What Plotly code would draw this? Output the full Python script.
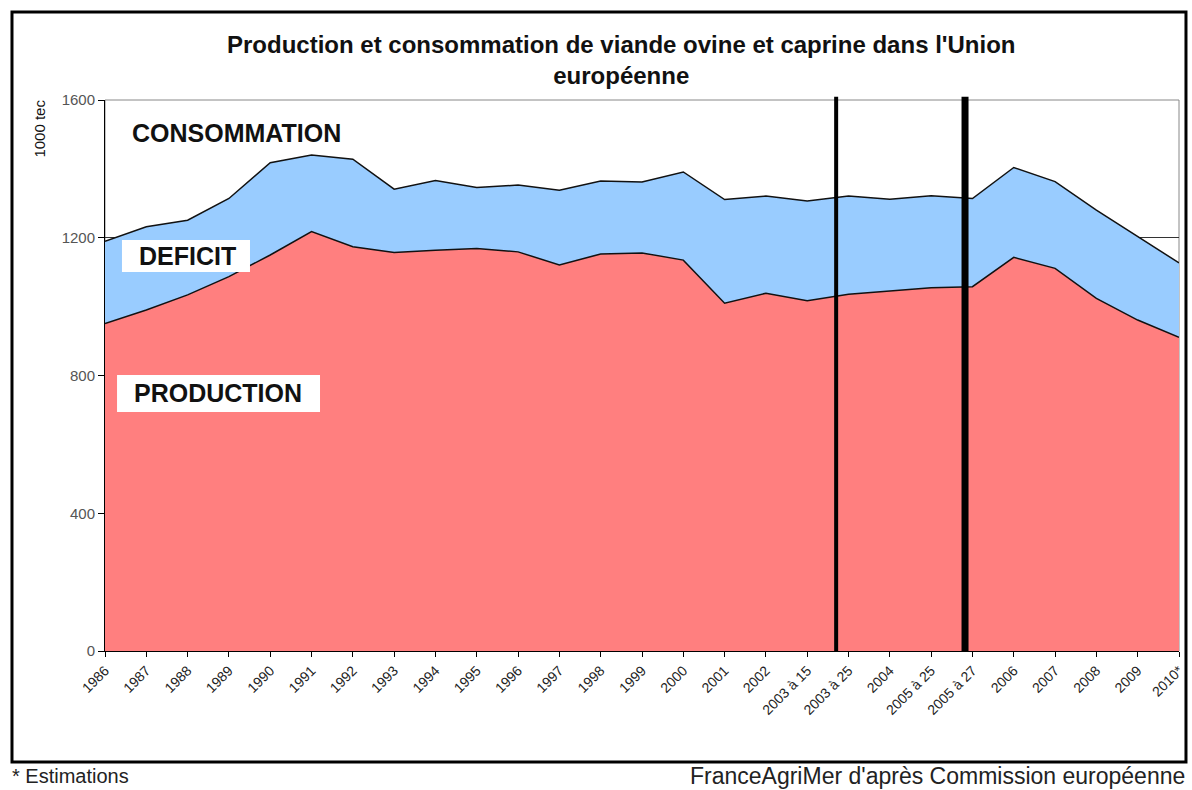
import plotly.graph_objects as go

categories = ["1986", "1987", "1988", "1989", "1990", "1991", "1992", "1993", "1994",
              "1995", "1996", "1997", "1998", "1999", "2000", "2001", "2002",
              "2003 à 15", "2003 à 25", "2004", "2005 à 25", "2005 à 27",
              "2006", "2007", "2008", "2009", "2010*"]
production = [951, 990, 1034, 1087, 1150, 1218, 1174, 1157, 1164, 1169, 1159, 1121,
              1153, 1156, 1135, 1010, 1039, 1017, 1036, 1045, 1055, 1058,
              1143, 1111, 1024, 961, 911]
consommation = [1190, 1232, 1251, 1314, 1418, 1440, 1428, 1341, 1366, 1346, 1353, 1338,
                1365, 1362, 1391, 1311, 1321, 1307, 1321, 1312, 1322, 1314,
                1404, 1363, 1280, 1203, 1127]
y_ticks = [0, 400, 800, 1200, 1600]
y_ticklabels = ["0", "400", "800", "1200", "1600"]
# separators drawn just before the "2003 à 25" and "2005 à 27" points
separators = [("2003 à 25", 0.3, 4), ("2005 à 27", 0.18, 7)]

FONT = "Liberation Sans, Arial, sans-serif"
idx = list(range(len(categories)))

fig = go.Figure()
fig.add_trace(go.Scatter(x=idx, y=production, mode="lines", fill="tozeroy",
                         fillcolor="#FF7F7F", line=dict(color="#111111", width=1.5),
                         name="Production", showlegend=False))
fig.add_trace(go.Scatter(x=idx, y=consommation, mode="lines", fill="tonexty",
                         fillcolor="#99CCFF", line=dict(color="#111111", width=1.5),
                         name="Consommation", showlegend=False))

shapes = []
for cat, off, w in separators:
    xv = categories.index(cat) - off
    shapes.append(dict(type="line", xref="x", yref="paper", x0=xv, x1=xv, y0=0, y1=1.006,
                       line=dict(color="black", width=w)))
# plot area border (top/right gray)
shapes.append(dict(type="rect", xref="paper", yref="paper", x0=0, x1=1, y0=0, y1=1,
                   line=dict(color="#888888", width=1), layer="below"))
# white label boxes
shapes.append(dict(type="rect", xref="paper", yref="paper", x0=0.0158, x1=0.135,
                   y0=0.688, y1=0.746, fillcolor="white", line=dict(width=0)))
shapes.append(dict(type="rect", xref="paper", yref="paper", x0=0.0112, x1=0.2002,
                   y0=0.4338, y1=0.5009, fillcolor="white", line=dict(width=0)))
# outer frame
shapes.append(dict(type="rect", xref="paper", yref="paper", x0=-0.0866, x1=1.0065,
                   y0=-0.2015, y1=1.1597, line=dict(color="black", width=3)))

annotations = [
    dict(text="<b>Production et consommation de viande ovine et caprine dans l'Union<br>européenne</b>",
         xref="paper", yref="paper", x=0.481, y=1.073, xanchor="center", yanchor="middle",
         showarrow=False, font=dict(family=FONT, size=24, color="#111111")),
    dict(text="1000 tec", xref="paper", yref="paper", x=-0.061, y=0.949, textangle=-90,
         xanchor="center", yanchor="middle",
         showarrow=False, font=dict(family=FONT, size=15, color="#111111")),
    dict(text="<b>CONSOMMATION</b>", xref="paper", yref="paper", x=0.1224, y=0.940,
         xanchor="center", yanchor="middle", showarrow=False,
         font=dict(family=FONT, size=25, color="#111111")),
    dict(text="<b>DEFICIT</b>", xref="paper", yref="paper", x=0.0764, y=0.717,
         xanchor="center", yanchor="middle", showarrow=False,
         font=dict(family=FONT, size=25, color="#111111")),
    dict(text="<b>PRODUCTION</b>", xref="paper", yref="paper", x=0.105, y=0.468,
         xanchor="center", yanchor="middle", showarrow=False,
         font=dict(family=FONT, size=25, color="#111111")),
    dict(text="* Estimations", xref="paper", yref="paper", x=-0.088, y=-0.227,
         xanchor="left", yanchor="middle", showarrow=False,
         font=dict(family=FONT, size=20, color="#222222")),
    dict(text="FranceAgriMer d'après Commission européenne", xref="paper", yref="paper",
         x=1.0075, y=-0.227, xanchor="right", yanchor="middle", showarrow=False,
         font=dict(family=FONT, size=23, color="#222222")),
]

fig.update_layout(
    width=1192, height=790,
    margin=dict(l=105, r=13, t=100, b=139, autoexpand=False),
    paper_bgcolor="white", plot_bgcolor="white",
    shapes=shapes, annotations=annotations,
    showlegend=False,
    xaxis=dict(range=[0, len(categories) - 1], tickmode="array", tickvals=idx,
               ticktext=categories, tickangle=-45, ticks="outside", ticklen=5,
               tickcolor="black", showgrid=False, zeroline=False, showline=True,
               linecolor="black", linewidth=1, automargin=False,
               tickfont=dict(family=FONT, size=14, color="#222222")),
    yaxis=dict(range=[0, 1600], tickmode="array", tickvals=y_ticks,
               ticktext=y_ticklabels, ticks="outside", ticklen=6, tickcolor="black",
               showgrid=True, gridcolor="#333333", gridwidth=1, zeroline=False,
               showline=True, linecolor="black", linewidth=1, automargin=False,
               tickfont=dict(family=FONT, size=15, color="#555555")),
)

fig.write_html("out.html", config={"displayModeBar": False},
               post_script="document.body.style.margin='0';document.documentElement.style.overflow='hidden';")
